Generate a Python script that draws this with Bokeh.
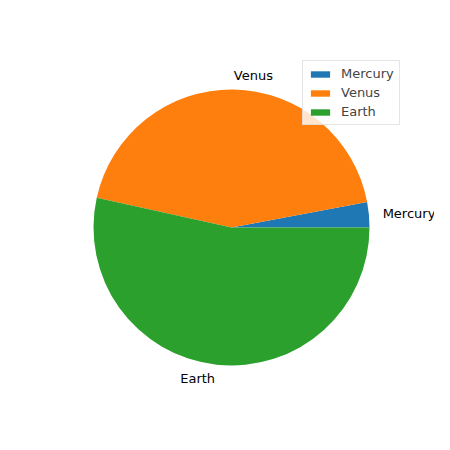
import numpy as np
from bokeh.plotting import figure
from bokeh.models import Range1d, Legend, LegendItem
from bokeh.core.properties import value
from bokeh.embed import file_html
from bokeh.resources import INLINE

planets = ["Mercury", "Venus", "Earth"]
masses = [0.330, 4.87, 5.97]
colors = ["#1f77b4", "#ff7f0e", "#2ca02c"]

W = H = 434
R_PX = 138.0
CX, CY = 231.0, 227.0  # pie centre in figure pixels (from top-left)

p = figure(width=W, height=H, output_backend="svg", toolbar_location=None,
           x_range=Range1d(-CX / R_PX, (W - CX) / R_PX),
           y_range=Range1d(-(H - CY) / R_PX, CY / R_PX),
           min_border=0)
p.axis.visible = False
p.grid.visible = False
p.outline_line_color = None

vals = np.array(masses, dtype=float)
frac = vals / vals.sum()
ends = np.cumsum(frac) * 2 * np.pi
starts = np.concatenate([[0.0], ends[:-1]])
mids = (starts + ends) / 2

items = []
for i in range(len(planets)):
    r = p.wedge(x=0, y=0, radius=1.0, start_angle=starts[i], end_angle=ends[i],
                fill_color=colors[i], line_color=None)
    items.append(LegendItem(label=planets[i], renderers=[r]))

lx = 1.1 * np.cos(mids)
ly = 1.1 * np.sin(mids)
for i in range(len(planets)):
    p.text(x=[lx[i]], y=[ly[i]], text=[planets[i]],
           text_font=value("DejaVu Sans"), text_font_size="13px",
           text_align="left" if lx[i] > 0 else "right", text_baseline="middle",
           text_color="black")

leg = Legend(items=items, location=(302, 309),
             label_text_font="DejaVu Sans", label_text_font_size="13px",
             glyph_width=24, glyph_height=8, label_standoff=9,
             padding=5, spacing=4, margin=0,
             border_line_color="#cccccc", border_line_width=1,
             background_fill_color="white", background_fill_alpha=0.8)
p.add_layout(leg, "center")

open("out.html", "w").write(file_html(p, INLINE))
